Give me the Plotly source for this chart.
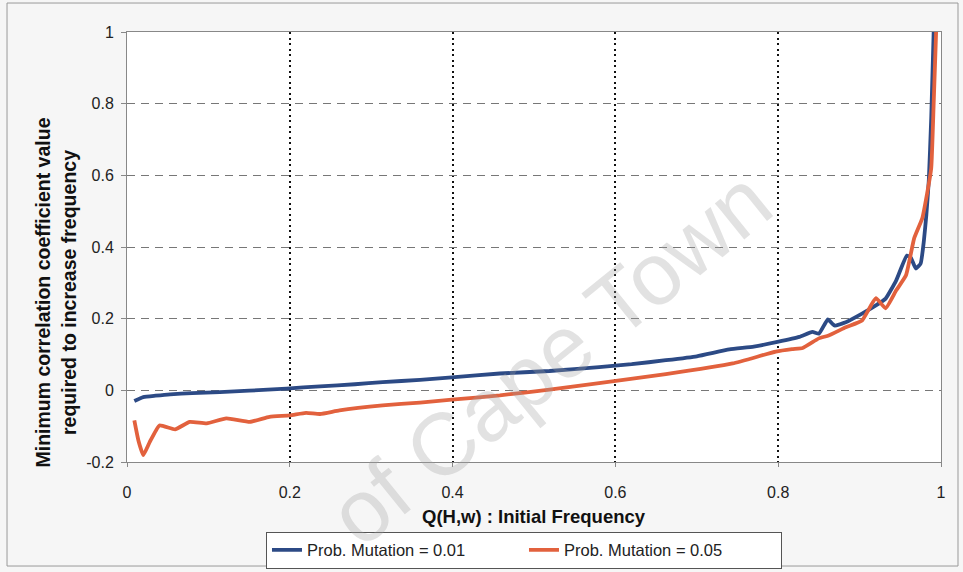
import plotly.graph_objects as go

# Minimum correlation coefficient needed for a schema to grow, per initial frequency
freq_mut_001 = [0.009, 0.02, 0.035, 0.053, 0.08, 0.114, 0.15, 0.196, 0.237, 0.28,
                0.314, 0.36, 0.399, 0.458, 0.519, 0.58, 0.62, 0.662, 0.70, 0.74,
                0.77, 0.799, 0.826, 0.842, 0.85, 0.861, 0.869, 0.883, 0.903, 0.92,
                0.932, 0.945, 0.958, 0.963, 0.969, 0.975, 0.979, 0.982, 0.985,
                0.988, 0.991]
corr_mut_001 = [-0.030, -0.019, -0.015, -0.011, -0.008, -0.005, -0.001, 0.005, 0.011, 0.017,
                0.023, 0.029, 0.036, 0.047, 0.054, 0.065, 0.073, 0.084, 0.095, 0.114,
                0.122, 0.135, 0.149, 0.163, 0.158, 0.198, 0.181, 0.19, 0.214, 0.237,
                0.256, 0.307, 0.376, 0.37, 0.34, 0.354, 0.418, 0.49, 0.585,
                0.76, 1.0]

freq_mut_005 = [0.009, 0.014, 0.02, 0.028, 0.04, 0.059, 0.077, 0.098, 0.122, 0.151,
                0.175, 0.2, 0.22, 0.237, 0.261, 0.314, 0.36, 0.399, 0.458, 0.519,
                0.58, 0.662, 0.744, 0.797, 0.817, 0.83, 0.85, 0.862, 0.883, 0.903,
                0.92, 0.932, 0.945, 0.957, 0.967, 0.977, 0.983, 0.988, 0.991, 0.994]
corr_mut_005 = [-0.084, -0.14, -0.181, -0.144, -0.098, -0.109, -0.088, -0.092, -0.078, -0.088,
                -0.074, -0.07, -0.063, -0.066, -0.056, -0.042, -0.034, -0.026, -0.014, 0.002,
                0.02, 0.045, 0.075, 0.108, 0.115, 0.118, 0.145, 0.153, 0.176, 0.195,
                0.257, 0.229, 0.279, 0.321, 0.424, 0.48, 0.55, 0.62, 0.8, 1.0]

series_names = ["Prob. Mutation = 0.01", "Prob. Mutation = 0.05"]
series_colors = ["#2c4a85", "#e2613d"]

x_ticks = [0, 0.2, 0.4, 0.6, 0.8, 1]
y_ticks = [-0.2, 0, 0.2, 0.4, 0.6, 0.8, 1]

FONT = "Liberation Sans, Arial, sans-serif"

fig = go.Figure()
for xs, ys, name, color in [(freq_mut_001, corr_mut_001, series_names[0], series_colors[0]),
                            (freq_mut_005, corr_mut_005, series_names[1], series_colors[1])]:
    fig.add_trace(go.Scatter(
        x=xs, y=ys, mode="lines", name=name,
        line=dict(color=color, width=3.8, shape="spline", smoothing=0.4),
    ))

fig.update_xaxes(
    range=[0, 1], tickvals=x_ticks, ticktext=[f"{v:g}" for v in x_ticks],
    showgrid=True, gridcolor="#111111", gridwidth=2, griddash="2px,3.5px",
    zeroline=False, showline=True, linecolor="#888888", linewidth=1, mirror=True,
    ticks="outside", ticklen=4, tickcolor="#888888", ticklabelstandoff=12,
    tickfont=dict(family=FONT, size=16, color="#222222"),
)
fig.update_yaxes(
    range=[-0.2, 1], tickvals=y_ticks, ticktext=[f"{v:g}" for v in y_ticks],
    showgrid=True, gridcolor="#777777", gridwidth=1, griddash="8px,6px",
    zeroline=False, showline=True, linecolor="#888888", linewidth=1, mirror=True,
    ticks="outside", ticklen=5, tickcolor="#888888", ticklabelstandoff=4,
    tickfont=dict(family=FONT, size=16, color="#222222"),
)

fig.update_layout(
    width=963, height=572,
    margin=dict(l=127, r=22, t=32, b=110, autoexpand=False),
    paper_bgcolor="#f6f6f6", plot_bgcolor="#ffffff",
    showlegend=True,
    legend=dict(
        orientation="h", x=0.4877, xanchor="center", y=-0.205, yanchor="middle",
        bgcolor="#ffffff", bordercolor="#555555", borderwidth=1,
        font=dict(family=FONT, size=16.5, color="#222222"),
        entrywidth=212, itemwidth=30,
    ),
    annotations=[
        dict(text="Minimum correlation coefficient value<br>required to increase frequency",
             xref="paper", yref="paper", x=-0.088, y=0.395, xanchor="center", yanchor="middle",
             textangle=-90, showarrow=False,
             font=dict(family=FONT, size=19.5, color="#111111", weight="bold")),
        dict(text="Q(H,w) : Initial Frequency",
             xref="paper", yref="paper", x=0.5, y=-0.126, xanchor="center", yanchor="middle",
             showarrow=False,
             font=dict(family=FONT, size=18.5, color="#111111", weight="bold")),
        dict(text="of Cape Town",
             xref="paper", yref="paper", x=0.52, y=0.242, xanchor="center", yanchor="middle",
             textangle=-39, showarrow=False,
             font=dict(family=FONT, size=88, color="rgba(160,160,160,0.3)")),
    ],
    shapes=[
        dict(type="rect", xref="paper", yref="paper",
             x0=-0.1474, x1=1.0209, y0=-0.2419, y1=1.0674,
             line=dict(color="#999999", width=1), layer="below"),
    ],
)

fig.write_html("out.html")
